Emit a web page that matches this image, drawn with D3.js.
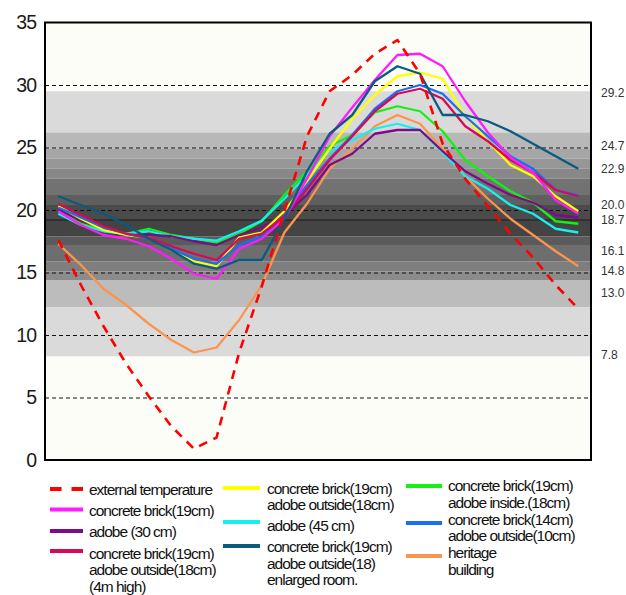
<!DOCTYPE html>
<html>
<head>
<meta charset="utf-8">
<script src="https://cdn.jsdelivr.net/npm/d3@7"></script>
<style>
  body { margin: 0; background: #fff; }
  text { font-family: "Liberation Sans", Arial, sans-serif; }
</style>
</head>
<body>
<div id="chart"></div>
<script>
// hourly readings, 24 points
var hours = [0, 1, 2, 3, 4, 5, 6, 7, 8, 9, 10, 11, 12, 13, 14, 15, 16, 17, 18, 19, 20, 21, 22, 23];

var externalTemp = [17.6, 14.0, 10.7, 7.7, 5.1, 2.7, 0.9, 1.8, 8.6, 13.9, 19.9, 25.9, 29.5, 30.8, 32.5, 33.6, 30.9, 25.3, 22.5, 20.3, 18.1, 16.2, 14.0, 12.1];
var concrete19 = [19.9, 18.8, 18.0, 17.7, 17.1, 16.1, 14.9, 14.5, 16.9, 17.7, 19.3, 22.5, 25.9, 28.2, 30.4, 32.4, 32.5, 31.5, 28.7, 26.2, 24.2, 23.0, 20.8, 19.7];
var adobe30 = [20.0, 19.2, 18.5, 18.0, 18.0, 17.9, 17.5, 17.2, 18.0, 18.6, 19.6, 21.2, 23.6, 24.5, 26.1, 26.4, 26.4, 24.7, 23.1, 22.1, 21.2, 20.6, 19.6, 19.4];
var concreteAdobeHigh = [20.5, 19.6, 18.7, 18.1, 17.8, 17.1, 16.5, 16.0, 17.7, 18.1, 19.5, 21.7, 24.0, 25.9, 27.9, 29.3, 29.7, 28.9, 26.7, 25.5, 24.0, 23.0, 21.6, 21.1];
var concreteAdobeOut = [20.3, 19.3, 18.4, 18.0, 17.8, 16.8, 15.9, 15.5, 17.8, 18.2, 19.9, 22.3, 24.9, 27.3, 29.2, 30.7, 31.0, 30.5, 27.5, 25.5, 23.6, 22.7, 21.1, 19.9];
var adobe45 = [19.7, 18.8, 18.3, 18.1, 18.3, 17.9, 17.7, 17.55, 18.3, 19.15, 20.9, 22.8, 24.7, 25.6, 26.5, 26.9, 26.4, 24.6, 22.7, 21.7, 20.4, 19.7, 18.5, 18.2];
var enlargedRoom = [21.1, 20.4, 19.7, 18.8, 17.7, 16.8, 15.7, 15.3, 16.0, 16.0, 19.3, 23.1, 26.1, 27.6, 30.3, 31.5, 30.9, 27.6, 27.6, 27.1, 26.3, 25.3, 24.3, 23.3];
var concreteAdobeIn = [19.9, 18.9, 18.4, 18.1, 18.5, 18.0, 17.7, 17.4, 18.1, 19.1, 21.2, 23.1, 25.1, 26.0, 27.8, 28.3, 27.9, 26.3, 24.0, 22.7, 21.5, 20.6, 19.1, 18.9];
var concrete14 = [20.2, 19.4, 18.6, 18.1, 17.7, 16.9, 16.1, 15.7, 17.2, 17.9, 19.6, 22.0, 24.1, 26.0, 28.1, 29.5, 30.0, 29.3, 27.5, 25.9, 24.3, 23.3, 21.6, 21.2];
var heritage = [17.3, 15.6, 13.7, 12.4, 10.9, 9.6, 8.6, 9.0, 11.2, 14.0, 18.2, 20.5, 23.3, 24.9, 26.7, 27.6, 26.9, 24.9, 22.7, 20.9, 19.3, 18.0, 16.7, 15.5];

// comfort band limits (top to bottom) and right-hand labels
var bandEdges = [29.5, 26.2, 24.9, 24.1, 23.3, 22.5, 21.2, 20.4, 19.2, 17.9, 17.2, 15.9, 15.1, 14.4, 12.2, 8.3];
var bandShades = ["#dadada", "#b8b8b8", "#a6a6a6", "#979797", "#888888", "#727272", "#5f5f5f", "#4b4b4b",
                  "#444444", "#5b5b5b", "#6e6e6e", "#7e7e7e", "#8b8b8b", "#bcbcbc", "#dadada"];
var comfortLabels = ["29.2", "24.7", "22.9", "20.0", "18.7", "16.1", "14.8", "13.0", "7.8"];
var comfortLabelAt = [29.4, 25.1, 23.3, 20.4, 19.2, 16.7, 15.1, 13.4, 8.4];
var darkLineAt = 19.2;

var yTicks = [0, 5, 10, 15, 20, 25, 30, 35];
var gridTicks = [5, 10, 15, 20, 25, 30];

// svg
var svgWidth = 626, svgHeight = 595;
var plotL = 45, plotR = 591, plotT = 22.5, plotB = 460;

var svg = d3.select("#chart").append("svg")
  .attr("width", svgWidth)
  .attr("height", svgHeight);

svg.append("rect").attr("width", svgWidth).attr("height", svgHeight).attr("fill", "#ffffff");

var x = d3.scaleLinear().domain([0, 23]).range([58.3, 578.3]);
var y = d3.scaleLinear().domain([0, 35]).range([plotB, plotT]);

// plot background
svg.append("rect")
  .attr("x", plotL).attr("y", plotT)
  .attr("width", plotR - plotL).attr("height", plotB - plotT)
  .attr("fill", "#fdfdf8");

// gray bands
svg.append("g").selectAll("rect")
  .data(bandShades)
  .enter().append("rect")
  .attr("x", plotL)
  .attr("width", plotR - plotL)
  .attr("y", (d, i) => y(bandEdges[i]))
  .attr("height", (d, i) => y(bandEdges[i + 1]) - y(bandEdges[i]))
  .attr("fill", d => d);

svg.append("line")
  .attr("x1", plotL).attr("x2", plotR)
  .attr("y1", y(darkLineAt)).attr("y2", y(darkLineAt))
  .attr("stroke", "#2a2a2a")
  .attr("stroke-width", 1.6);

// dashed grid
var grid = svg.append("g")
  .attr("transform", `translate(${plotL},0)`)
  .call(d3.axisLeft(y).tickValues(gridTicks).tickSize(-(plotR - plotL)).tickFormat(""));
grid.select(".domain").remove();
grid.selectAll("line")
  .attr("stroke", "#111")
  .attr("stroke-width", 1.2)
  .attr("stroke-dasharray", "4,3");

// y axis labels
var yAxis = svg.append("g")
  .attr("transform", `translate(${plotL},0)`)
  .call(d3.axisLeft(y).tickValues(yTicks).tickSize(0).tickPadding(9));
yAxis.select(".domain").remove();
yAxis.selectAll("text")
  .attr("font-size", "19.5px")
  .attr("letter-spacing", "-1px")
  .attr("fill", "#1a1a1a")
  .style("font-family", "'Liberation Sans', Arial, sans-serif");

// series
var seriesData = [heritage, concreteAdobeIn, adobe45, adobe30, concreteAdobeOut, concrete14, concreteAdobeHigh, concrete19, enlargedRoom, externalTemp];
var seriesColors = ["#fa9550", "#14f014", "#18eeee", "#7d0c86", "#ffff00", "#1a6ff0", "#d80a55", "#ff1aff", "#0b5a80", "#ff0000"];

var line = d3.line()
  .x((d, i) => x(hours[i]))
  .y(d => y(d));

seriesData.forEach(function(vals, k) {
  var p = svg.append("path")
    .attr("d", line(vals))
    .attr("fill", "none")
    .attr("stroke", seriesColors[k])
    .attr("stroke-width", 2.3)
    .attr("stroke-linejoin", "round");
  if (vals === externalTemp) {
    p.attr("stroke-width", 2.6).attr("stroke-dasharray", "9,7");
  }
});

// frame
svg.append("rect")
  .attr("x", plotL).attr("y", plotT)
  .attr("width", plotR - plotL).attr("height", plotB - plotT)
  .attr("fill", "none")
  .attr("stroke", "#000")
  .attr("stroke-width", 2);

// right labels
svg.append("g").selectAll("text")
  .data(comfortLabels)
  .enter().append("text")
  .attr("x", 601)
  .attr("y", (d, i) => y(comfortLabelAt[i]) + 4)
  .attr("font-size", "12px")
  .attr("fill", "#333")
  .style("font-family", "'Liberation Sans Narrow', 'Arial Narrow', sans-serif")
  .text(d => d);

// legend
var legendNames = [
  ["external temperature"],
  ["concrete brick(19cm)"],
  ["adobe (30 cm)"],
  ["concrete brick(19cm)", "adobe outside(18cm)", "(4m high)"],
  ["concrete brick(19cm)", "adobe outside(18cm)"],
  ["adobe (45 cm)"],
  ["concrete brick(19cm)", "adobe outside(18)", "enlarged room."],
  ["concrete brick(19cm)", "adobe inside.(18cm)"],
  ["concrete brick(14cm)", "adobe outside(10cm)"],
  ["heritage", "building"]
];
var legendColors = ["#ff0000", "#ff1aff", "#7d0c86", "#d80a55", "#ffff00", "#18eeee", "#0b5a80", "#14f014", "#1a6ff0", "#fa9550"];
// [lineX1, lineX2, lineY, textX, firstTextY]
var legendPos = [
  [50, 83, 489, 89, 489],
  [50, 83, 509.5, 89, 510],
  [50, 83, 531, 89, 531.5],
  [50, 83, 551, 89, 553],
  [223, 260, 488, 267, 488],
  [223, 260, 522, 267, 525],
  [223, 260, 546, 267, 546.5],
  [406, 442, 486, 448, 485.5],
  [406, 442, 523, 448, 519],
  [406, 442, 556, 448, 552.5]
];

var legend = svg.append("g");
legendNames.forEach(function(names, k) {
  var p = legendPos[k];
  var l = legend.append("line")
    .attr("x1", p[0]).attr("x2", p[1])
    .attr("y1", p[2]).attr("y2", p[2])
    .attr("stroke", legendColors[k])
    .attr("stroke-width", 4);
  if (k === 0) l.attr("stroke-dasharray", "11.5,10");
  var t = legend.append("text")
    .attr("x", p[3])
    .attr("y", p[4] + 5.5)
    .attr("font-size", "15.5px")
    .attr("letter-spacing", "-1px")
    .attr("fill", "#111");
  names.forEach(function(n, j) {
    t.append("tspan")
      .attr("x", p[3])
      .attr("dy", j === 0 ? 0 : 16.5)
      .text(n);
  });
});
</script>
</body>
</html>
